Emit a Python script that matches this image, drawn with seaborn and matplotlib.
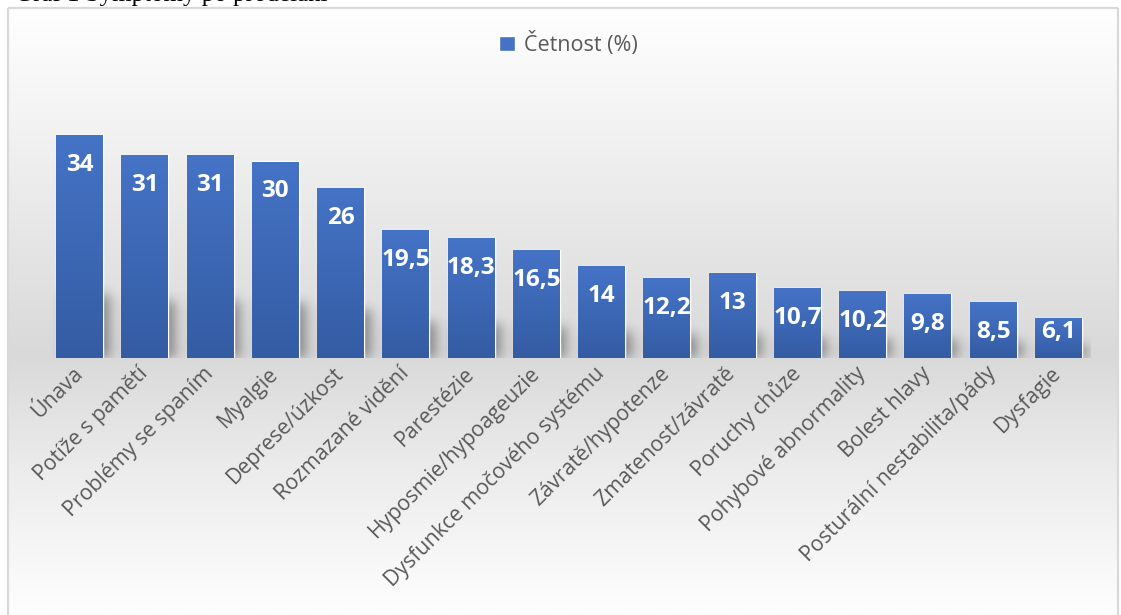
import numpy as np
import pandas as pd
import matplotlib
matplotlib.use("Agg")
import matplotlib.pyplot as plt
from matplotlib.patches import Patch
import seaborn as sns

# ---- data -------------------------------------------------------------
categories = [
    "Únava", "Potíže s pamětí", "Problémy se spaním", "Myalgie",
    "Deprese/úzkost", "Rozmazané vidění", "Parestézie",
    "Hyposmie/hypoageuzie", "Dysfunkce močového systému",
    "Závratě/hypotenze", "Zmatenost/závratě", "Poruchy chůze",
    "Pohybové abnormality", "Bolest hlavy",
    "Posturální nestabilita/pády", "Dysfagie",
]
values = [34, 31, 31, 30, 26, 19.5, 18.3, 16.5, 14, 12.2, 13, 10.7, 10.2, 9.8, 8.5, 6.1]
series_name = "Četnost (%)"
title_text = "Graf 1 Symptomy po prodělání"

# ---- styling ----------------------------------------------------------
sns.set_theme(style="white")
plt.rcParams["font.family"] = ["Open Sans", "DejaVu Sans"]

W, H = 1121, 615
TEXT_GRAY = "#595959"
BAR_TOP = np.array([69, 115, 198]) / 255
BAR_BOTTOM = np.array([52, 92, 163]) / 255

fig = plt.figure(figsize=(W / 100, H / 100), dpi=100)
fig.patch.set_facecolor("white")

# chart-area background: vertical light/grey/light gradient inside a thin frame
bg = fig.add_axes([0, 0, 1, 1], zorder=-10)
rows = np.arange(8, H + 1)
shade = np.interp(rows, [8, 130, 355, 470, 615], [255, 242, 217, 236, 254]) / 255
bg.imshow(np.dstack([shade[:, None]] * 3), extent=[7, 1118, H, 8],
          aspect="auto", interpolation="bilinear")
for xs_, ys_ in (([7.5, 7.5], [H, 8]), ([7.5, 1118], [8, 8]), ([1118, 1118], [8, H])):
    bg.plot(xs_, ys_, color="#d9d9d9", lw=1.6, solid_capstyle="butt")
bg.set_xlim(0, W)
bg.set_ylim(H, 0)
bg.axis("off")

# document caption above the chart (runs off the top of the page)
fig.text(15 / W, 1 - 1.5 / H, title_text, fontfamily="Liberation Serif",
         fontsize=18, va="baseline", ha="left", color="black")

# ---- bars -------------------------------------------------------------
ax = fig.add_axes([47 / W, (H - 358) / H, 1044 / W, 262 / H])
ax.patch.set_alpha(0)
df = pd.DataFrame({"symptom": categories, "value": values})
sns.barplot(data=df, x="symptom", y="value", color="#4472c4", saturation=1,
            width=0.72, ax=ax, zorder=3)

n = len(categories)
XMIN, XMAX, YMIN, YMAX = -0.5, n - 0.5, 0, 40
ax.set_xlim(XMIN, XMAX)
ax.set_ylim(YMIN, YMAX)

# vertical gradient fill on each bar
t = np.linspace(0, 1, 256)[:, None, None]
bar_fill = BAR_TOP + (BAR_BOTTOM - BAR_TOP) * t
for p in list(ax.patches):
    x0, y0, w, h = p.get_x(), p.get_y(), p.get_width(), p.get_height()
    im = ax.imshow(bar_fill, extent=[x0, x0 + w, y0, y0 + h], aspect="auto",
                   interpolation="bilinear", zorder=4)
    im.set_clip_path(p)

# soft shadow behind the bar bases
nx, ny = 1044, 262
gx, gy = np.meshgrid(np.linspace(XMIN, XMAX, nx), np.linspace(YMIN, YMAX, ny))
mask = np.zeros_like(gx)
for i, v in enumerate(values):
    mask[(gx > i - 0.36 + 0.1) & (gx < i + 0.36 + 0.1) & (gy < 0.28 * v)] = 1.0
sigma = 6
k = np.exp(-0.5 * (np.arange(-3 * sigma, 3 * sigma + 1) / sigma) ** 2)
k /= k.sum()
soft = np.apply_along_axis(lambda r: np.convolve(r, k, mode="same"), 1, mask)
soft = np.apply_along_axis(lambda c: np.convolve(c, k, mode="same"), 0, soft)
shadow = np.zeros((ny, nx, 4))
shadow[..., 3] = soft * 0.38
ax.imshow(shadow, extent=[XMIN, XMAX, YMIN, YMAX], origin="lower",
          aspect="auto", zorder=1)
ax.set_xlim(XMIN, XMAX)
ax.set_ylim(YMIN, YMAX)

# value labels inside the bar ends
ppu = ax.transData.transform((0, 1))[1] - ax.transData.transform((0, 0))[1]
for i, v in enumerate(values):
    label = f"{v:g}".replace(".", ",")
    y = max(v - 30 / ppu, 26 / ppu)
    ax.text(i, y, label, ha="center", va="center", color="white",
            fontsize=17.5, fontweight="bold", zorder=6)

# axes cosmetics
ax.set_xticks(range(n))
ax.set_xticklabels(categories, rotation=45, ha="right", va="center",
                   rotation_mode="anchor", fontsize=15.3, color=TEXT_GRAY)
ax.tick_params(axis="x", length=0, pad=9)
ax.set_yticks([])
ax.set_xlabel("")
ax.set_ylabel("")
for s in ax.spines.values():
    s.set_visible(False)

fig.legend(handles=[Patch(facecolor="#4472c4", label=series_name)],
           loc="center", bbox_to_anchor=(568 / W, 1 - 44 / H), frameon=False,
           fontsize=15.5, handlelength=0.75, handleheight=0.75,
           handletextpad=0.4, labelcolor=TEXT_GRAY)

fig.savefig("out.png", dpi=100)
